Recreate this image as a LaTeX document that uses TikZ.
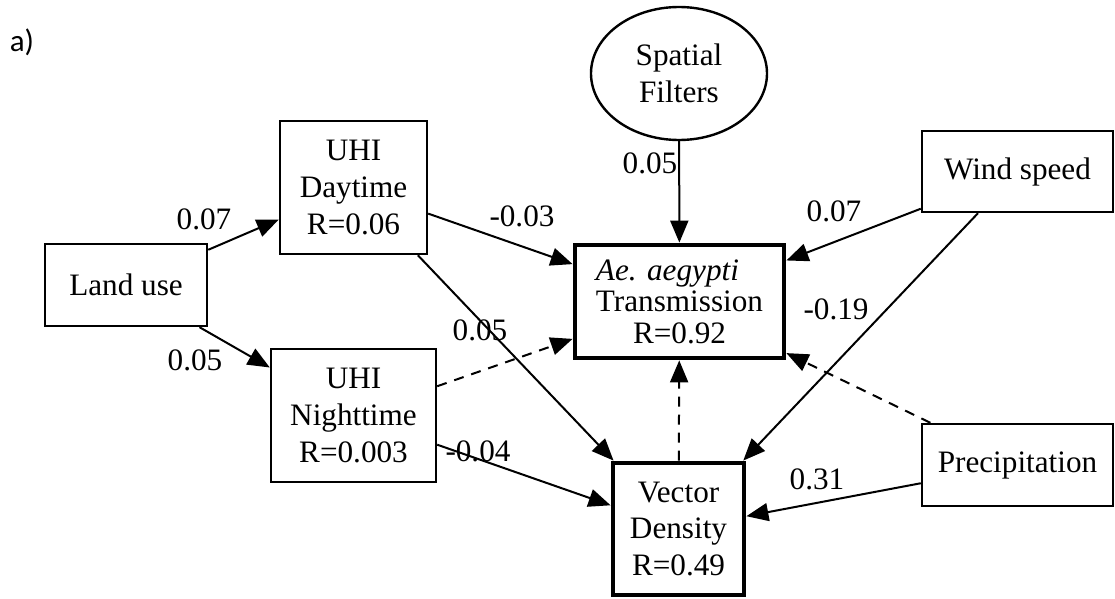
\documentclass[tikz,border=0pt]{standalone}
\usepackage{fontspec}
\setmainfont{Liberation Serif}
\newfontfamily\panelfont{Carlito}
\usetikzlibrary{arrows.meta,shapes.geometric}

\tikzset{
  var/.style={draw, line width=1.2pt, inner sep=0pt, align=center,
    font=\fontsize{15.6}{18.3}\selectfont},
  outcome/.style={var, line width=2.4pt},
  coef/.style={inner sep=0pt, font=\fontsize{15.6}{18.3}\selectfont},
  link/.style={line width=1pt, -{Triangle[length=11pt, width=9pt]}},
  nonsig/.style={link, dash pattern=on 5pt off 4pt},
}

\begin{document}
\begin{tikzpicture}[x=0.5pt, y=-0.5pt]
\useasboundingbox (0,0) rectangle (1115,599);
\node[inner sep=0pt, font=\panelfont\fontsize{15.5}{18}\selectfont] (panel) at (22,42) {a)};
% exogenous variables
\node[var, minimum width=81pt, minimum height=41pt] (land) at (126,285) {Land use};
\node[var, ellipse, minimum width=88pt, minimum height=66.5pt] (spatial) at (679,73.5) {Spatial\\Filters};
\node[var, minimum width=95.5pt, minimum height=40.5pt] (wind) at (1017.5,171.5) {Wind speed};
\node[var, minimum width=95.5pt, minimum height=41pt] (precip) at (1017.5,465) {Precipitation};
% mediators
\node[var, minimum width=73.5pt, minimum height=66.5pt] (day) at (353.5,187.5) {UHI\\Daytime\\R=0.06};
\node[var, minimum width=82.5pt, minimum height=66.5pt] (night) at (353.5,415.5) {UHI\\Nighttime\\R=0.003};
\node[outcome, minimum width=65.5pt, minimum height=66pt] (vector) at (678.5,529) {Vector\\Density\\R=0.49};
\node[outcome, minimum width=104.5pt, minimum height=56.5pt, font=\fontsize{15.6}{15.8}\selectfont] (trans) at (679.5,301.5)
  {\rlap{\textit{Ae. aegypti}}\phantom{Transmission}\\Transmission\\R=0.92};
% paths
\draw[link] (land) -- (day);
\draw[link] (land) -- (night);
\draw[link] (day) -- (trans);
\draw[link] (day) -- (vector);
\draw[nonsig] (night) -- (trans);
\draw[link] (night) -- (vector);
\draw[link] (spatial) -- (trans);
\draw[link] (wind) -- (trans);
\draw[link] (wind) -- (vector);
\draw[nonsig] (precip) -- (trans);
\draw[link] (precip) -- (vector);
\draw[nonsig] (vector) -- (trans);
% coefficients
\node[coef] (b1) at (204,219) {0.07};
\node[coef] (b2) at (195,360) {0.05};
\node[coef] (b3) at (522,216) {-0.03};
\node[coef] (b4) at (480,330) {0.05};
\node[coef] (b5) at (478,451) {-0.04};
\node[coef] (b6) at (650,163) {0.05};
\node[coef] (b7) at (834,211) {0.07};
\node[coef] (b8) at (836,309) {-0.19};
\node[coef] (b9) at (817,479) {0.31};
\end{tikzpicture}
\end{document}
